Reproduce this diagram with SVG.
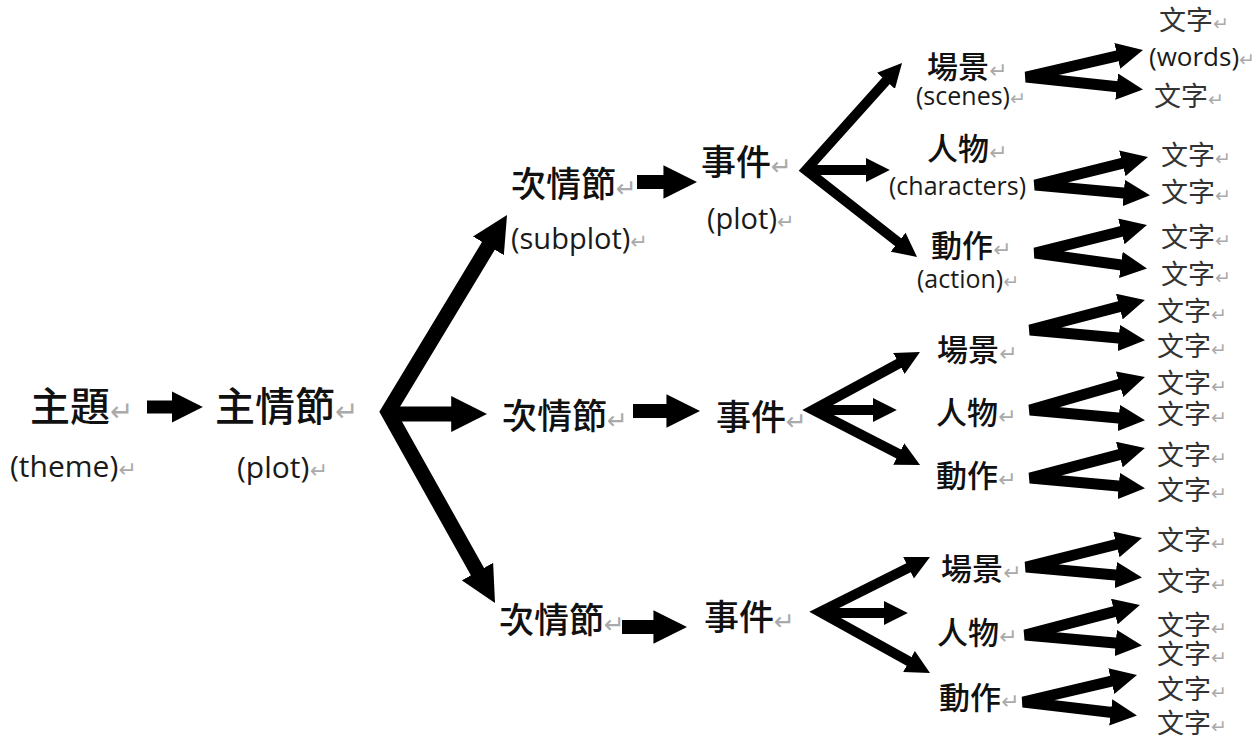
<svg xmlns="http://www.w3.org/2000/svg" width="1257" height="737" viewBox="0 0 1257 737">
<defs>
<marker id="ah" viewBox="0 0 10 10" refX="3" refY="5" markerWidth="2.4" markerHeight="2.4" orient="auto-start-reverse"><path d="M0,0 L10,5 L0,10 z" fill="#000"/></marker>
<style>
.c{fill:none;stroke:#000;stroke-linejoin:miter}
.a{marker-end:url(#ah)}
.f{marker-start:url(#ah);marker-end:url(#ah)}
.rf{fill:none;stroke:#000;stroke-width:11;stroke-linejoin:bevel;marker-start:url(#ah);marker-end:url(#ah)}
.k{font-family:"Noto Sans CJK TC","Noto Sans CJK SC",sans-serif;fill:#111;font-weight:500}
.w{font-family:"Noto Sans CJK TC","Noto Sans CJK SC",sans-serif;fill:#333;font-size:27px}
.e{font-family:"Open Sans","Noto Sans",sans-serif;fill:#1a1a1a}
.pm{font-family:"DejaVu Sans",sans-serif;fill:#aaa;font-weight:400}
</style>
</defs>
<rect width="1257" height="737" fill="#fff"/>

<g id="connectors">
<line class="c a" x1="147" y1="407" x2="181" y2="407" stroke-width="13"/>
<path class="c f" d="M494,236.6 L388,412 L482.7,581" stroke-width="15"/>
<line class="c a" x1="388" y1="414" x2="462" y2="414" stroke-width="15"/>
<line class="c a" x1="637" y1="182" x2="673.5" y2="182" stroke-width="14"/>
<line class="c a" x1="633" y1="411" x2="676.5" y2="411" stroke-width="14"/>
<line class="c a" x1="622" y1="627" x2="663.5" y2="627" stroke-width="14"/>
<path class="c f" d="M890.8,75.5 L806,170 L903.8,246.6" stroke-width="10"/>
<line class="c a" x1="806" y1="170" x2="873" y2="170" stroke-width="10"/>
<path class="c f" d="M905.2,360 L813,410 L905.1,457.3" stroke-width="10"/>
<line class="c a" x1="813" y1="410" x2="880" y2="410" stroke-width="10"/>
<path class="c f" d="M915,564.5 L820,612 L915.3,664.9" stroke-width="10"/>
<line class="c a" x1="820" y1="613" x2="891" y2="613" stroke-width="10"/>
<path class="rf" d="M1125,54.2 L1026,77 L1124.6,87.5"/>
<path class="rf" d="M1130,161.4 L1035,185 L1131.6,193.7"/>
<path class="rf" d="M1129,229.5 L1035,253 L1128.7,266"/>
<path class="rf" d="M1127,304.6 L1030,330 L1126.6,338.7"/>
<path class="rf" d="M1127.2,382 L1030,410 L1126.6,418.7"/>
<path class="rf" d="M1127,452.6 L1030,478 L1126.6,486.7"/>
<path class="rf" d="M1124,542.5 L1026,567 L1123.6,575.8"/>
<path class="rf" d="M1122,609.6 L1025,635 L1123.6,643.8"/>
<path class="rf" d="M1119,679.3 L1023,702 L1118.6,713.3"/>
</g>

<g id="n-theme">
<text class="k" x="30" y="421" font-size="40">主題<tspan class="pm" font-size="28">↵</tspan></text>
<text class="e" x="10" y="477" font-size="30">(theme)<tspan class="pm" font-size="22">↵</tspan></text>
</g>
<g id="n-mainplot">
<text class="k" x="215" y="421" font-size="40">主情節<tspan class="pm" font-size="28">↵</tspan></text>
<text class="e" x="237" y="478" font-size="30">(plot)<tspan class="pm" font-size="22">↵</tspan></text>
</g>

<g id="n-sub1">
<text class="k" x="511" y="197" font-size="35">次情節<tspan class="pm" font-size="25">↵</tspan></text>
<text class="e" x="511" y="249" font-size="29">(subplot)<tspan class="pm" font-size="21">↵</tspan></text>
</g>
<g id="n-event1">
<text class="k" x="701" y="175" font-size="35">事件<tspan class="pm" font-size="25">↵</tspan></text>
<text class="e" x="707" y="229" font-size="29">(plot)<tspan class="pm" font-size="21">↵</tspan></text>
</g>
<g id="n-scene1">
<text class="k" x="927" y="78" font-size="31">場景<tspan class="pm" font-size="22">↵</tspan></text>
<text class="e" x="916" y="105" font-size="25">(scenes)<tspan class="pm" font-size="19">↵</tspan></text>
</g>
<g id="n-char1">
<text class="k" x="927" y="160" font-size="31">人物<tspan class="pm" font-size="22">↵</tspan></text>
<text class="e" x="889" y="195" font-size="25">(characters)</text>
</g>
<g id="n-action1">
<text class="k" x="931" y="257" font-size="31">動作<tspan class="pm" font-size="22">↵</tspan></text>
<text class="e" x="917" y="288" font-size="25">(action)<tspan class="pm" font-size="19">↵</tspan></text>
</g>

<g id="n-sub2"><text class="k" x="502" y="429" font-size="35">次情節<tspan class="pm" font-size="25">↵</tspan></text></g>
<g id="n-event2"><text class="k" x="716" y="430" font-size="35">事件<tspan class="pm" font-size="25">↵</tspan></text></g>
<g id="n-scene2"><text class="k" x="937" y="361" font-size="31">場景<tspan class="pm" font-size="22">↵</tspan></text></g>
<g id="n-char2"><text class="k" x="936" y="424" font-size="31">人物<tspan class="pm" font-size="22">↵</tspan></text></g>
<g id="n-action2"><text class="k" x="936" y="487" font-size="31">動作<tspan class="pm" font-size="22">↵</tspan></text></g>

<g id="n-sub3"><text class="k" x="499" y="633" font-size="35">次情節<tspan class="pm" font-size="25">↵</tspan></text></g>
<g id="n-event3"><text class="k" x="704" y="630" font-size="35">事件<tspan class="pm" font-size="25">↵</tspan></text></g>
<g id="n-scene3"><text class="k" x="941" y="580" font-size="31">場景<tspan class="pm" font-size="22">↵</tspan></text></g>
<g id="n-char3"><text class="k" x="937" y="644" font-size="31">人物<tspan class="pm" font-size="22">↵</tspan></text></g>
<g id="n-action3"><text class="k" x="939" y="709" font-size="31">動作<tspan class="pm" font-size="22">↵</tspan></text></g>

<g id="w1a"><text class="w" x="1159" y="30">文字<tspan class="pm" font-size="19">↵</tspan></text>
<text class="e" x="1149" y="66" font-size="26">(words)<tspan class="pm" font-size="19">↵</tspan></text></g>
<g id="w1b"><text class="w" x="1154" y="106">文字<tspan class="pm" font-size="19">↵</tspan></text></g>
<g id="w2a"><text class="w" x="1161" y="165">文字<tspan class="pm" font-size="19">↵</tspan></text></g>
<g id="w2b"><text class="w" x="1161" y="202">文字<tspan class="pm" font-size="19">↵</tspan></text></g>
<g id="w3a"><text class="w" x="1161" y="247">文字<tspan class="pm" font-size="19">↵</tspan></text></g>
<g id="w3b"><text class="w" x="1161" y="284">文字<tspan class="pm" font-size="19">↵</tspan></text></g>
<g id="w4a"><text class="w" x="1157" y="321">文字<tspan class="pm" font-size="19">↵</tspan></text></g>
<g id="w4b"><text class="w" x="1157" y="356">文字<tspan class="pm" font-size="19">↵</tspan></text></g>
<g id="w5a"><text class="w" x="1157" y="393">文字<tspan class="pm" font-size="19">↵</tspan></text></g>
<g id="w5b"><text class="w" x="1157" y="424">文字<tspan class="pm" font-size="19">↵</tspan></text></g>
<g id="w6a"><text class="w" x="1157" y="465">文字<tspan class="pm" font-size="19">↵</tspan></text></g>
<g id="w6b"><text class="w" x="1157" y="500">文字<tspan class="pm" font-size="19">↵</tspan></text></g>
<g id="w7a"><text class="w" x="1157" y="550">文字<tspan class="pm" font-size="19">↵</tspan></text></g>
<g id="w7b"><text class="w" x="1157" y="591">文字<tspan class="pm" font-size="19">↵</tspan></text></g>
<g id="w8a"><text class="w" x="1157" y="635">文字<tspan class="pm" font-size="19">↵</tspan></text></g>
<g id="w8b"><text class="w" x="1157" y="664">文字<tspan class="pm" font-size="19">↵</tspan></text></g>
<g id="w9a"><text class="w" x="1157" y="699">文字<tspan class="pm" font-size="19">↵</tspan></text></g>
<g id="w9b"><text class="w" x="1157" y="733">文字<tspan class="pm" font-size="19">↵</tspan></text></g>
</svg>
